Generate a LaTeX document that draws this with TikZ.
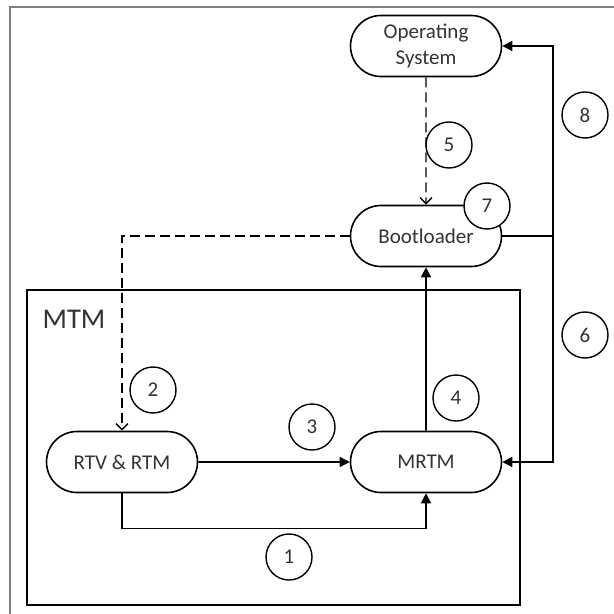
\documentclass[tikz,border=0pt]{standalone}
\usepackage{fontspec}
\setmainfont{Carlito}
\usetikzlibrary{shapes.misc,arrows.meta}
\begin{document}
\begin{tikzpicture}[x=0.5pt,y=-0.5pt,
    box/.style={draw,rounded rectangle,minimum width=75.5pt,minimum height=30.5pt,
      inner sep=0pt,line width=0.8pt,align=center,text=black!80,
      font=\fontsize{10.5}{12.8}\selectfont},
    num/.style={draw,circle,fill=white,minimum size=23pt,inner sep=0pt,
      line width=0.7pt,text=black!80,font=\fontsize{10.5}{12}\selectfont},
    arr/.style={-{Triangle[length=5pt,width=5pt]},line width=0.8pt},
    darr/.style={-{Straight Barb[length=3pt,width=6pt]},line width=0.7pt,
      dash pattern=on 5pt off 2.5pt}]
  \useasboundingbox (0,0) rectangle (614,614);
  \draw[gray,line width=0.6pt] (10,614) -- (10,7) -- (614,7);
  % MTM box
  \draw[line width=0.8pt] (27,290) rectangle (520,605);
  \node[text=black!80,font=\fontsize{14.3}{16}\selectfont] (mtm) at (74,319) {MTM};
  % blocks
  \draw
    (426,46) node[box] (os) {Operating\\System}
    (426,236) node[box] (boot) {Bootloader}
    (122,462) node[box] (rtv) {RTV \& RTM}
    (426,462) node[box] (mrtm) {MRTM};
  \coordinate (bus) at (553,236);
  % connectors
  \draw[darr] (os) to (boot);
  \draw[darr] (boot.west) -| (rtv.north);
  \draw[arr] (rtv) to (mrtm);
  \draw[arr] (rtv.south) -- ++(0,35) -| (mrtm.south);
  \draw[arr] (mrtm) to (boot);
  \draw[line width=0.8pt] (boot.east) -- (bus);
  \draw[arr] (bus) |- (os.east);
  \draw[arr] (bus) |- (mrtm.east);
  % step numbers
  \draw
    (289,557) node[num] (n1) {1}
    (153,390) node[num] (n2) {2}
    (312,427) node[num] (n3) {3}
    (456,398) node[num] (n4) {4}
    (449,145) node[num] (n5) {5}
    (585,335) node[num] (n6) {6}
    (487,206) node[num] (n7) {7}
    (585,115) node[num] (n8) {8};
\end{tikzpicture}
\end{document}
